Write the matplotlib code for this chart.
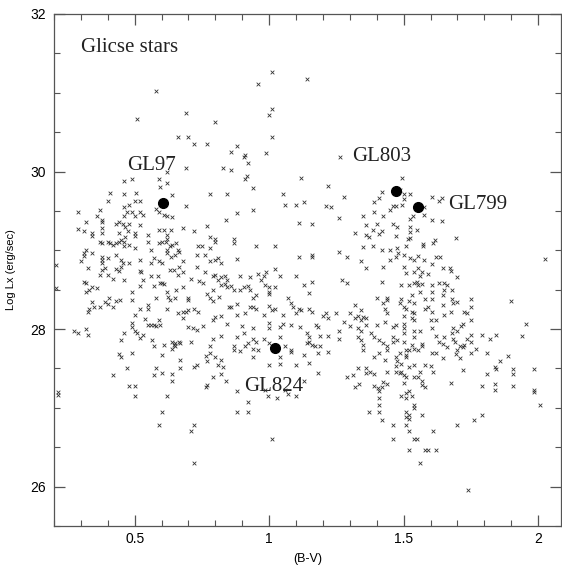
import matplotlib
matplotlib.use("Agg")
import numpy as np
import matplotlib.pyplot as plt
from matplotlib.ticker import MultipleLocator

# (B-V, log Lx) pairs, grouped by the area they sit in
upper_left = [
    (0.58, 31.02), (0.69, 30.74), (0.51, 30.67), (0.80, 30.63), (0.66, 30.44), (0.70, 30.44),
    (0.72, 30.35), (0.77, 30.35), (0.62, 30.00), (0.69, 30.05), (0.83, 30.05), (0.46, 29.88),
    (0.49, 29.91), (0.59, 29.91), (0.62, 29.85), (0.41, 29.73), (0.46, 29.72), (0.505, 29.73),
    (0.64, 29.70), (0.78, 29.72), (0.845, 29.72), (0.595, 29.80),
]

upper_mid = [
    (1.012, 31.26), (1.142, 31.17), (0.96, 31.11), (1.012, 30.80), (1.00, 30.72), (1.012, 30.44),
    (0.88, 30.33), (0.86, 30.25), (0.905, 30.19), (0.91, 30.21), (0.99, 30.23), (0.92, 30.11),
    (0.86, 30.02), (0.917, 29.94), (0.91, 29.91), (1.12, 29.92), (0.94, 29.79), (1.05, 29.72),
    (1.22, 29.81), (1.264, 30.18), (1.28, 29.68), (1.42, 29.74), (1.41, 29.67),
]

upper_right = [
    (1.493, 29.92), (1.487, 29.77), (1.502, 29.71), (1.524, 29.72), (1.502, 29.65), (1.493, 29.58),
    (1.605, 29.68), (1.642, 29.67), (1.633, 29.62), (1.576, 29.55), (1.574, 29.45), (1.534, 29.44),
    (1.524, 29.40), (1.605, 29.38), (1.642, 29.37), (1.524, 29.29), (1.551, 29.26), (1.522, 29.23),
    (1.524, 29.16), (1.518, 29.14), (1.615, 29.13), (1.608, 29.09), (1.694, 29.15), (1.571, 29.08),
    (1.571, 29.05), (1.509, 29.05), (1.502, 28.94), (1.524, 28.90), (1.539, 28.88), (1.555, 28.93),
    (1.576, 28.88), (1.621, 28.92), (1.636, 28.91), (1.605, 28.83), (1.646, 28.78), (1.673, 28.77),
    (1.502, 28.79), (1.555, 28.78), (2.024, 28.89),
]

mid_left = [
    (0.40, 29.62), (0.46, 29.55), (0.48, 29.58), (0.50, 29.63), (0.52, 29.63), (0.58, 29.53),
    (0.69, 29.56), (0.29, 29.48), (0.37, 29.51), (0.38, 29.39), (0.38, 29.36), (0.36, 29.43),
    (0.46, 29.43), (0.47, 29.48), (0.49, 29.49), (0.50, 29.44), (0.52, 29.48), (0.53, 29.45),
    (0.59, 29.48), (0.61, 29.45), (0.62, 29.43), (0.64, 29.42), (0.84, 29.39), (0.32, 29.36),
    (0.43, 29.33), (0.44, 29.36), (0.455, 29.33), (0.48, 29.33), (0.29, 29.27), (0.31, 29.25),
    (0.34, 29.22), (0.38, 29.28), (0.38, 29.22), (0.44, 29.22), (0.465, 29.29), (0.475, 29.24),
    (0.50, 29.22), (0.50, 29.18), (0.52, 29.32), (0.55, 29.20), (0.59, 29.26), (0.61, 29.26),
    (0.635, 29.26), (0.68, 29.28), (0.72, 29.25), (0.77, 29.31), (0.78, 29.17), (0.80, 29.14),
    (0.62, 29.20), (0.62, 29.14), (0.34, 29.18), (0.37, 29.11), (0.38, 29.09), (0.40, 29.11),
    (0.41, 29.09), (0.42, 29.07), (0.43, 29.09), (0.44, 29.11), (0.45, 29.13), (0.46, 29.10),
    (0.46, 29.05), (0.48, 29.07), (0.50, 29.03), (0.465, 29.17), (0.55, 29.11), (0.59, 29.09),
    (0.60, 29.11), (0.615, 29.11), (0.63, 29.05), (0.64, 29.07), (0.655, 29.09), (0.66, 29.01),
    (0.56, 29.00), (0.62, 29.00), (0.735, 29.06), (0.75, 29.05), (0.78, 29.03), (0.80, 29.11),
    (0.32, 29.00), (0.31, 28.96), (0.30, 28.86), (0.31, 28.93), (0.34, 28.96), (0.38, 28.92),
    (0.38, 28.88), (0.38, 28.84), (0.40, 28.90), (0.43, 28.94), (0.45, 28.88), (0.455, 28.84),
    (0.48, 28.84), (0.52, 28.88), (0.56, 28.84), (0.57, 28.90), (0.59, 28.86), (0.60, 28.84),
    (0.62, 28.96), (0.635, 28.92), (0.65, 28.94), (0.665, 28.98), (0.68, 28.86), (0.73, 28.94),
    (0.76, 28.94), (0.78, 28.86), (0.80, 28.88), (0.81, 28.90), (0.82, 28.84), (0.325, 28.77),
    (0.38, 28.75), (0.39, 28.77), (0.43, 28.76), (0.44, 28.74), (0.45, 28.79), (0.52, 28.74),
    (0.525, 28.72), (0.56, 28.67), (0.585, 28.67), (0.645, 28.75), (0.665, 28.79), (0.68, 28.73),
    (0.66, 28.69), (0.63, 28.75), (0.71, 28.63), (0.73, 28.79), (0.74, 28.61), (0.76, 28.72),
    (0.79, 28.67), (0.81, 28.62), (0.82, 28.66), (0.835, 28.67), (0.845, 28.62), (0.80, 28.69),
    (0.37, 28.69), (0.40, 28.69), (0.42, 28.63), (0.46, 28.62), (0.53, 28.62), (0.31, 28.60),
    (0.32, 28.58), (0.33, 28.49), (0.34, 28.54), (0.36, 28.52), (0.32, 28.47), (0.49, 28.47),
    (0.52, 28.55), (0.57, 28.55), (0.595, 28.58), (0.60, 28.59), (0.61, 28.57), (0.62, 28.47),
    (0.655, 28.50), (0.68, 28.54), (0.755, 28.58), (0.79, 28.50), (0.82, 28.56), (0.835, 28.57),
    (0.845, 28.53), (0.34, 28.35), (0.39, 28.35), (0.405, 28.40), (0.40, 28.32), (0.43, 28.36),
    (0.445, 28.37), (0.42, 28.28), (0.33, 28.26), (0.325, 28.22), (0.35, 28.28), (0.37, 28.28),
    (0.49, 28.37), (0.52, 28.26), (0.55, 28.31), (0.58, 28.40), (0.625, 28.41), (0.63, 28.37),
    (0.65, 28.39), (0.70, 28.40), (0.70, 28.37), (0.77, 28.45), (0.78, 28.39), (0.79, 28.36),
    (0.815, 28.41), (0.85, 28.28), (0.62, 28.25), (0.55, 28.25), (0.66, 28.21), (0.68, 28.22),
    (0.69, 28.22), (0.70, 28.24), (0.72, 28.26), (0.735, 28.22), (0.50, 28.18), (0.54, 28.13),
    (0.59, 28.11), (0.595, 28.05), (0.56, 28.05), (0.57, 28.05), (0.58, 28.04), (0.55, 28.05),
    (0.49, 28.08), (0.49, 28.03), (0.68, 28.14), (0.70, 28.03), (0.715, 28.01), (0.73, 27.99),
    (0.755, 28.04), (0.79, 28.12), (0.80, 28.15), (0.82, 28.16), (0.845, 28.06), (0.275, 27.98),
    (0.29, 27.95), (0.32, 28.00), (0.325, 27.92), (0.50, 27.97), (0.51, 27.95), (0.52, 27.89),
    (0.53, 27.92), (0.46, 27.95), (0.565, 27.86), (0.61, 27.80), (0.64, 27.84), (0.645, 27.80),
    (0.65, 27.82), (0.665, 27.84), (0.67, 27.82), (0.71, 27.84), (0.79, 27.88), (0.82, 27.91),
    (0.45, 27.86), (0.49, 27.70), (0.44, 27.68), (0.45, 27.65), (0.57, 27.78), (0.60, 27.67),
    (0.64, 27.75), (0.65, 27.78), (0.78, 27.78), (0.765, 27.66), (0.78, 27.70), (0.80, 27.65),
    (0.47, 27.50), (0.58, 27.51), (0.67, 27.61), (0.67, 27.51), (0.72, 27.52), (0.73, 27.54),
    (0.77, 27.59), (0.81, 27.54), (0.82, 27.61), (0.83, 27.52), (0.207, 28.81), (0.207, 28.52),
]

mid_centre = [
    (1.06, 29.58), (1.10, 29.58), (1.13, 29.61), (1.21, 29.56), (1.23, 29.55), (1.39, 29.61),
    (1.46, 29.56), (1.47, 29.56), (0.88, 29.47), (0.94, 29.51), (1.26, 29.41), (1.35, 29.44),
    (1.39, 29.49), (1.425, 29.44), (1.45, 29.51), (1.11, 29.35), (1.16, 29.33), (1.36, 29.32),
    (1.40, 29.33), (1.46, 29.33), (1.475, 29.30), (1.385, 29.26), (1.42, 29.24), (1.32, 29.22),
    (1.36, 29.20), (1.37, 29.17), (1.41, 29.21), (0.87, 29.14), (0.87, 29.09), (1.47, 29.18),
    (0.95, 29.06), (1.02, 29.05), (1.385, 29.05), (1.35, 29.04), (1.42, 29.00), (1.45, 29.00),
    (1.475, 29.03), (1.48, 28.97), (1.11, 28.92), (1.16, 28.94), (1.16, 28.91), (1.26, 28.98),
    (1.29, 28.92), (0.88, 28.89), (1.34, 28.86), (1.36, 28.77), (1.425, 28.79), (1.47, 28.92),
    (1.45, 28.88), (0.89, 28.67), (0.93, 28.66), (0.96, 28.70), (0.98, 28.67), (0.97, 28.62),
    (0.99, 28.73), (1.02, 28.76), (1.04, 28.67), (1.10, 28.67), (1.16, 28.60), (1.13, 28.56),
    (1.15, 28.46), (1.27, 28.62), (1.29, 28.59), (1.42, 28.60), (0.86, 28.55), (0.905, 28.53),
    (0.92, 28.55), (0.87, 28.50), (0.89, 28.50), (0.93, 28.50), (0.985, 28.56), (1.00, 28.53),
    (1.02, 28.53), (1.00, 28.47), (1.00, 28.45), (0.95, 28.43), (0.94, 28.39), (1.40, 28.39),
    (1.44, 28.40), (1.425, 28.33), (1.43, 28.26), (1.44, 28.20), (1.44, 28.37), (1.32, 28.31),
    (1.34, 28.24), (0.88, 28.32), (0.86, 28.28), (0.91, 28.21), (0.93, 28.28), (0.94, 28.28),
    (0.95, 28.26), (0.98, 28.18), (1.00, 28.29), (1.01, 28.24), (1.02, 28.26), (1.05, 28.18),
    (1.07, 28.39), (1.08, 28.33), (1.09, 28.28), (1.10, 28.20), (1.11, 28.26), (1.12, 28.24),
    (1.15, 28.25), (1.16, 28.22), (1.21, 28.20), (1.22, 28.14), (1.25, 28.20), (1.20, 28.17),
    (1.30, 28.20), (1.32, 28.14), (1.33, 28.17), (1.34, 28.11), (1.35, 28.15), (1.36, 28.14),
    (0.88, 28.18), (0.90, 28.04), (0.94, 28.01), (1.00, 28.08), (1.00, 28.01), (1.04, 28.03),
    (1.05, 28.07), (1.08, 28.05), (1.115, 28.03), (1.175, 28.05), (1.18, 28.03), (1.14, 27.95),
    (1.28, 28.09), (1.30, 28.04), (1.36, 28.05), (1.40, 28.05), (1.43, 28.09), (1.46, 28.03),
    (1.47, 28.05), (1.33, 28.01), (1.34, 27.98), (0.88, 27.90), (0.87, 27.78), (0.905, 27.95),
    (0.91, 27.78), (0.92, 27.82), (0.94, 27.88), (0.95, 27.83), (0.96, 27.73), (0.94, 27.75),
    (0.89, 27.72), (0.98, 27.88), (1.00, 27.82), (1.04, 27.90), (1.06, 27.78), (1.08, 27.74),
    (1.15, 27.90), (1.15, 27.84), (1.16, 27.80), (1.17, 27.78), (1.19, 27.78), (1.14, 27.82),
    (1.19, 27.91), (1.22, 27.91), (1.26, 27.98), (1.26, 27.88), (1.33, 27.90), (1.34, 27.86),
    (1.35, 27.80), (1.38, 27.95), (1.39, 27.90), (1.41, 27.86), (1.425, 27.82), (1.44, 27.78),
    (1.46, 27.90), (1.46, 27.84), (1.44, 27.73), (1.475, 27.86), (0.87, 27.73), (0.94, 27.65),
    (1.04, 27.65), (1.08, 27.71), (1.13, 27.67), (1.15, 27.57), (1.18, 27.69), (1.22, 27.71),
    (1.35, 27.73), (1.39, 27.65), (1.41, 27.69), (1.43, 27.61), (1.47, 27.65), (1.475, 27.59),
    (1.00, 27.54), (1.04, 27.56), (1.10, 27.54), (1.33, 27.50), (1.36, 27.50), (1.47, 27.53),
]

mid_right = [
    (1.51, 28.71), (1.54, 28.73), (1.57, 28.73), (1.59, 28.70), (1.56, 28.67), (1.70, 28.66),
    (1.49, 28.56), (1.52, 28.56), (1.54, 28.58), (1.555, 28.56), (1.55, 28.60), (1.57, 28.57),
    (1.605, 28.56), (1.63, 28.58), (1.65, 28.59), (1.66, 28.56), (1.675, 28.74), (1.56, 28.47),
    (1.605, 28.47), (1.645, 28.43), (1.65, 28.49), (1.68, 28.49), (1.53, 28.43), (1.58, 28.38),
    (1.605, 28.38), (1.68, 28.38), (1.685, 28.33), (1.70, 28.35), (1.75, 28.38), (1.90, 28.36),
    (1.52, 28.36), (1.54, 28.33), (1.49, 28.38), (1.487, 28.33), (1.50, 28.28), (1.51, 28.26),
    (1.53, 28.22), (1.54, 28.20), (1.58, 28.25), (1.59, 28.28), (1.605, 28.22), (1.645, 28.31),
    (1.65, 28.18), (1.675, 28.22), (1.725, 28.22), (1.735, 28.21), (1.75, 28.28), (1.53, 28.14),
    (1.54, 28.11), (1.60, 28.12), (1.62, 28.11), (1.75, 28.12), (1.50, 28.17), (1.50, 28.06),
    (1.50, 28.01), (1.50, 27.95), (1.54, 27.97), (1.56, 27.97), (1.605, 28.02), (1.685, 28.01),
    (1.68, 27.95), (1.70, 27.97), (1.72, 28.07), (1.715, 28.04), (1.54, 27.90), (1.62, 27.91),
    (1.65, 27.90), (1.685, 27.88), (1.735, 27.88), (1.75, 27.92), (1.79, 27.92), (1.82, 27.88),
    (1.845, 27.92), (1.94, 27.91), (1.955, 28.06), (1.50, 27.84), (1.53, 27.80), (1.54, 27.75),
    (1.555, 27.73), (1.57, 27.78), (1.57, 27.81), (1.52, 27.74), (1.51, 27.73), (1.63, 27.84),
    (1.645, 27.81), (1.66, 27.77), (1.69, 27.83), (1.71, 27.78), (1.725, 27.80), (1.72, 27.77),
    (1.75, 27.84), (1.77, 27.75), (1.70, 27.74), (1.487, 27.69), (1.51, 27.67), (1.51, 27.64),
    (1.605, 27.69), (1.62, 27.70), (1.645, 27.63), (1.695, 27.68), (1.71, 27.63), (1.75, 27.69),
    (1.81, 27.69), (1.89, 27.66), (1.49, 27.56), (1.52, 27.52), (1.54, 27.54), (1.58, 27.54),
    (1.60, 27.53), (1.56, 27.46), (1.61, 27.46), (1.72, 27.48), (1.84, 27.52), (1.845, 27.49),
    (1.86, 27.60), (1.905, 27.49), (1.905, 27.43), (1.985, 27.49), (1.81, 27.43), (1.49, 27.46),
    (1.50, 27.42), (1.51, 27.39), (1.54, 27.39), (1.555, 27.39), (1.487, 27.44), (1.57, 27.34),
    (1.57, 27.29), (1.58, 27.26), (1.50, 27.31), (1.675, 27.32), (1.79, 27.28), (1.84, 27.30),
    (1.84, 27.23), (1.905, 27.28), (1.985, 27.23), (1.985, 27.20), (1.52, 27.22), (1.51, 27.19),
    (1.49, 27.15), (1.53, 27.15), (1.51, 27.13), (1.54, 27.03), (1.54, 27.00), (2.007, 27.03),
    (1.51, 26.95), (1.52, 26.91), (1.57, 26.91), (1.51, 26.89), (1.52, 26.86), (1.76, 26.85),
    (1.79, 26.91),
]

lower_left = [
    (0.42, 27.42), (0.57, 27.42), (0.60, 27.44), (0.64, 27.43), (0.64, 27.34), (0.48, 27.28),
    (0.50, 27.28), (0.50, 27.15), (0.62, 27.15), (0.60, 26.95), (0.59, 26.78), (0.72, 26.78),
    (0.71, 26.70), (0.72, 26.30), (0.765, 27.26), (0.77, 27.29), (0.79, 27.39), (0.82, 27.43),
    (0.84, 27.34), (0.88, 27.22), (0.88, 26.95), (0.92, 27.08), (0.92, 26.95), (1.01, 26.60),
    (0.216, 27.20), (0.216, 27.16), (0.995, 27.15), (1.03, 27.12), (1.07, 27.18), (1.10, 27.15),
    (0.985, 27.23), (1.06, 27.23),
]

lower_right = [
    (1.18, 27.44), (1.13, 27.34), (1.29, 27.39), (1.31, 27.42), (1.36, 27.44), (1.375, 27.45),
    (1.39, 27.43), (1.32, 27.26), (1.335, 27.30), (1.39, 27.28), (1.405, 27.25), (1.41, 27.22),
    (1.42, 27.27), (1.44, 27.30), (1.425, 27.33), (1.41, 27.12), (1.41, 27.04), (1.37, 26.95),
    (1.41, 26.95), (1.42, 26.84), (1.46, 26.78), (1.46, 26.60), (1.44, 27.46), (1.47, 27.46),
    (1.51, 26.78), (1.52, 26.70), (1.54, 26.60), (1.55, 26.60), (1.52, 26.47), (1.58, 26.47),
    (1.59, 26.47), (1.62, 26.47), (1.56, 26.30), (1.61, 26.70), (1.70, 26.78), (1.74, 25.96),
]

named_stars = ["GL97", "GL803", "GL799", "GL824"]
named_bv = [0.607, 1.472, 1.553, 1.020]
named_lx = [29.60, 29.75, 29.55, 27.76]

all_points = upper_left + upper_mid + upper_right + mid_left + mid_centre + mid_right + lower_left + lower_right
bv = np.array([p[0] for p in all_points])
lx = np.array([p[1] for p in all_points])

plt.rcParams["font.family"] = ["Liberation Sans", "DejaVu Sans"]

fig = plt.figure(figsize=(5.62, 5.71), dpi=100)
ax = fig.add_axes([0.0961, 0.0788, 0.902, 0.8967])

ax.scatter(bv, lx, marker="x", s=7, linewidths=0.6, color="#333333")
ax.plot(named_bv, named_lx, "o", color="black", ms=7, ls="none")

# label offsets (points) from each marked star
offsets = {"GL97": (-26, 27), "GL803": (-32, 25), "GL799": (22, 2), "GL824": (-22, -28)}
for name, x, y in zip(named_stars, named_bv, named_lx):
    ax.annotate(name, (x, y), xytext=offsets[name], textcoords="offset points",
                ha="left", va="center", fontsize=15, family="Liberation Serif",
                color="#222222")

ax.text(0.301, 31.58, "Glicse stars", fontsize=15, family="Liberation Serif",
        ha="left", va="center", color="#222222")

ax.set_xlim(0.2, 2.085)
ax.set_ylim(25.5, 32)
ax.xaxis.set_major_locator(MultipleLocator(0.5))
ax.xaxis.set_minor_locator(MultipleLocator(0.1))
ax.yaxis.set_major_locator(MultipleLocator(2))
ax.yaxis.set_minor_locator(MultipleLocator(0.5))
ax.xaxis.set_major_formatter(plt.FuncFormatter(lambda v, p: f"{v:g}"))

for side in ax.spines.values():
    side.set_color("#555555")
    side.set_linewidth(0.9)
ax.tick_params(which="both", direction="in", top=True, right=True, colors="#555555",
               labelcolor="black", labelsize=10)
ax.tick_params(which="major", length=8, width=0.9)
ax.tick_params(which="minor", length=4, width=0.8)
ax.tick_params(axis="x", which="major", pad=4)
ax.tick_params(axis="y", which="major", pad=6)

ax.set_xlabel("(B-V)", fontsize=9, labelpad=5)
ax.set_ylabel("Log Lx (erg/sec)", fontsize=8, labelpad=10)

fig.savefig("out.png", dpi=100)
